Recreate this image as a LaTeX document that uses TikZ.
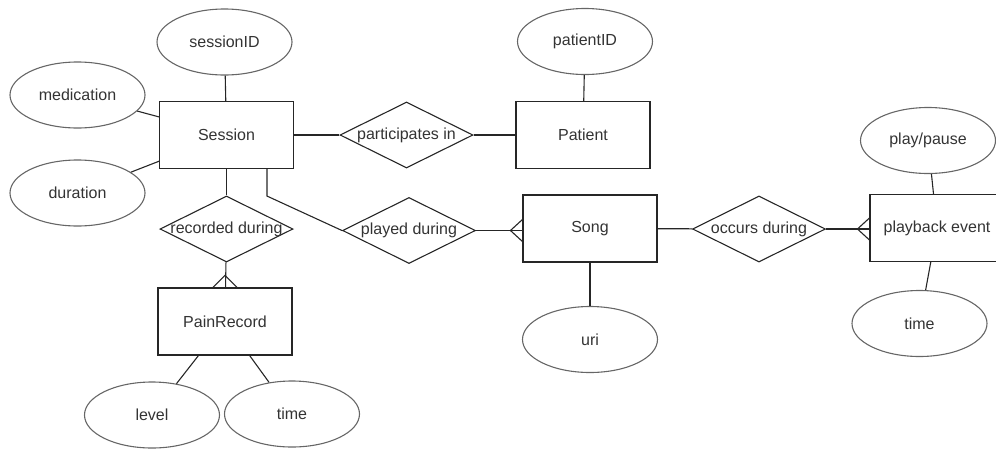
\documentclass[tikz,border=0pt]{standalone}
\usepackage{fontspec}
\setmainfont{Liberation Sans}
\usetikzlibrary{shapes.geometric,calc}
\newcommand\zw[1]{\makebox[0pt]{#1}}
\begin{document}
\begin{tikzpicture}[x=1pt,y=-1pt,
 every node/.style={font=\fontsize{16}{19}\selectfont, text=black!80, inner sep=0pt},
 entity/.style={draw=black!85, line width=1.1pt, rectangle, minimum width=134pt, minimum height=67pt},
 attr/.style={draw=black!60, line width=1.1pt, ellipse, minimum width=135pt, minimum height=66pt},
 rel/.style={draw=black!85, line width=1.1pt, diamond, minimum width=133pt, minimum height=66pt},
 link/.style={draw=black!85, line width=1.1pt}]
\useasboundingbox (0,0) rectangle (996,448);
% entities
\node[entity] (session) at (226.5,135) {Session};
\node[entity] (patient) at (583,135) {Patient};
\node[entity] (pr) at (225,321.5) {PainRecord};
\node[entity] (song) at (590,228.5) {Song};
\node[entity] (pe) at (937,228) {playback event};
% attributes
\node[attr] (sid) at (224.5,42) {sessionID};
\node[attr] (med) at (77.5,95) {medication};
\node[attr] (dur) at (77.5,193) {duration};
\node[attr] (pid) at (585,41.5) {patientID};
\node[attr] (level) at (152,415) {level};
\node[attr] (time1) at (292,414) {time};
\node[attr] (uri) at (590,339.5) {uri};
\node[attr] (pp) at (928,140.5) {play/pause};
\node[attr] (time2) at (919.5,323.5) {time};
% relationships
\node[rel] (pi) at (406.5,135) {\zw{participates in}};
\node[rel] (rd) at (226.5,229) {\zw{recorded during}};
\node[rel] (pd) at (409,230.5) {\zw{played during}};
\node[rel] (od) at (759,229) {\zw{occurs during}};
% attribute links
\draw[link] (sid) -- (session);
\draw[link] (med) -- (session);
\draw[link] (dur) -- (session);
\draw[link] (pid) -- (patient);
\draw[link] (level) -- (pr);
\draw[link] (time1) -- (pr);
\draw[link] (uri) -- (song);
\draw[link] (pp) -- (pe);
\draw[link] (time2) -- (pe);
% relationship links
\draw[link] (session) -- (pi);
\draw[link] (pi) -- (patient);
\draw[link] (session) -- (rd);
\draw[link] (rd) -- (pr);
\draw[link] ([xshift=40.5pt]session.south) -- ++(0,27) -- (pd.west);
\draw[link] (pd.east) -- (song.west |- pd.east);
\draw[link] (song) -- (od);
\draw[link] (od.east) -- (pe.west |- od.east);
% crow's feet
\draw[link] ($(pr.north)+(-12,0)$) -- ($(pr.north)+(0,-12)$) -- ($(pr.north)+(12,0)$);
\draw[link] ($(song.west |- pd.east)+(0,-11)$) -- ($(song.west |- pd.east)+(-12,0)$) -- ($(song.west |- pd.east)+(0,11)$);
\draw[link] ($(pe.west |- od.east)+(0,-11)$) -- ($(pe.west |- od.east)+(-12,0)$) -- ($(pe.west |- od.east)+(0,11)$);
\end{tikzpicture}
\end{document}
